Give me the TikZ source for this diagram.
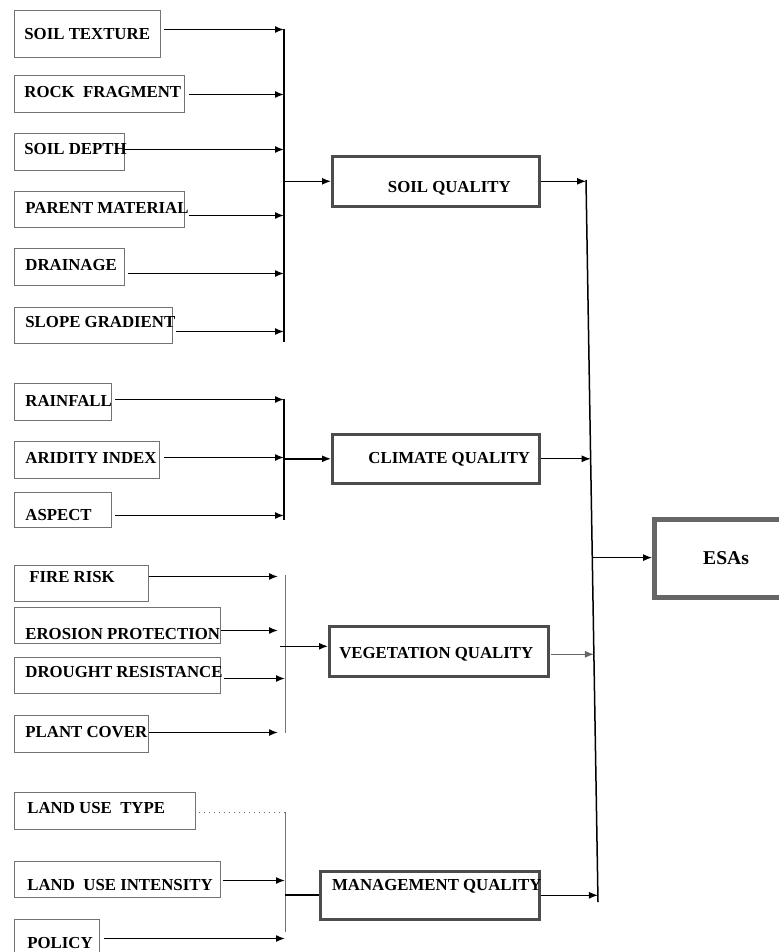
\documentclass[tikz,border=0pt]{standalone}
\usepackage{fontspec}
\setmainfont{Liberation Serif}
\usetikzlibrary{arrows.meta, calc}

\tikzset{
    factor/.style={draw=black!55, line width=0.5pt, anchor=north west, inner sep=0pt, minimum height=18pt},
    factxt/.style={anchor=west, inner sep=0pt, font=\fontsize{8.4}{10}\selectfont\bfseries},
    quality/.style={draw=black!70, line width=1.3pt, anchor=north west, inner sep=0pt},
    qtxt/.style={anchor=center, inner sep=0pt, font=\fontsize{8.4}{10}\selectfont\bfseries},
    esasbox/.style={draw=black!60, line width=2.6pt, anchor=north west, inner sep=0pt, font=\fontsize{9.8}{11}\selectfont\bfseries},
    feed/.style={line width=0.7pt, -{Latex[length=4.5pt, width=3.5pt]}},
    bus/.style={line width=0.75pt},
    greybus/.style={line width=0.5pt, draw=black!55},
}

\begin{document}
\begin{tikzpicture}[x=0.5pt, y=-0.5pt]
    \useasboundingbox (0,0) rectangle (779,952);

    % soil
    \node[factor, minimum width=73pt, minimum height=23.5pt, label={[factxt, xshift=5pt]west:SOIL TEXTURE}] (texture) at (14,10) {};
    \node[factor, minimum width=85pt, minimum height=18.5pt, label={[factxt, xshift=5pt, yshift=0.75pt]west:ROCK\ \ FRAGMENT}] (rock) at (14,75) {};
    \node[factor, minimum width=55pt, minimum height=18.5pt, label={[factxt, xshift=5pt, yshift=1.25pt]west:SOIL DEPTH}] (depth) at (14,133) {};
    \node[factor, minimum width=85pt, label={[factxt, xshift=5.5pt, yshift=1pt]west:PARENT MATERIAL}] (parent) at (14,191) {};
    \node[factor, minimum width=55pt, minimum height=18.5pt, label={[factxt, xshift=5.5pt, yshift=0.75pt]west:DRAINAGE}] (drainage) at (14,248) {};
    \node[factor, minimum width=79pt, label={[factxt, xshift=5.5pt, yshift=1.5pt]west:SLOPE GRADIENT}] (slope) at (14,307) {};

    \node[quality, minimum width=103.5pt, minimum height=25pt, label={[qtxt, xshift=6.75pt, yshift=-3.5pt]center:SOIL QUALITY}] (soilq) at (331,155) {};

    % climate
    \node[factor, minimum width=48.5pt, minimum height=18.5pt, label={[factxt, xshift=5.5pt, yshift=0.75pt]west:RAINFALL}] (rainfall) at (14,383) {};
    \node[factor, minimum width=72.5pt, minimum height=18.5pt, label={[factxt, xshift=5.5pt, yshift=1.25pt]west:ARIDITY INDEX}] (aridity) at (14,441) {};
    \node[factor, minimum width=48.5pt, minimum height=17.5pt, label={[factxt, xshift=5.5pt, yshift=-2.75pt]west:ASPECT}] (aspect) at (14,492) {};

    \node[quality, minimum width=103.5pt, minimum height=24.5pt, label={[qtxt, xshift=6.75pt]center:CLIMATE QUALITY}] (climq) at (331,433) {};

    % vegetation
    \node[factor, minimum width=67pt, label={[factxt, xshift=7.5pt, yshift=3pt]west:FIRE RISK}] (fire) at (14,565) {};
    \node[factor, minimum width=103pt, label={[factxt, xshift=5.5pt, yshift=-4.5pt]west:EROSION PROTECTION}] (erosion) at (14,607) {};
    \node[factor, minimum width=103pt, label={[factxt, xshift=5.5pt, yshift=1.5pt]west:DROUGHT RESISTANCE}] (drought) at (14,657) {};
    \node[factor, minimum width=67pt, minimum height=18.5pt, label={[factxt, xshift=5.5pt, yshift=0.75pt]west:PLANT COVER}] (plant) at (14,715) {};

    \node[quality, minimum width=109.5pt, minimum height=25pt, label={[qtxt, xshift=-1.25pt, yshift=-1.5pt]center:VEGETATION QUALITY}] (vegq) at (328,625) {};

    % management
    \node[factor, minimum width=90.5pt, minimum height=18.5pt, label={[factxt, xshift=6.5pt, yshift=1.25pt]west:LAND USE\ \ TYPE}] (landtype) at (14,792) {};
    \node[factor, minimum width=103pt, label={[factxt, xshift=6.5pt, yshift=-3pt]west:LAND\ \ USE INTENSITY}] (intensity) at (14,861) {};
    \node[factor, minimum width=42.5pt, minimum height=20pt, label={[factxt, xshift=6.5pt, yshift=-2pt]west:POLICY}] (policy) at (14,919) {};

    \node[quality, minimum width=109.5pt, minimum height=24pt, label={[qtxt, xshift=3.5pt, yshift=4.5pt]center:MANAGEMENT QUALITY}] (mgmtq) at (319,870) {};

    \node[esasbox, minimum width=71.5pt, minimum height=39pt] (esas) at (652,517) {ESAs};

    % buses
    \coordinate (sbus top) at (284,29);
    \coordinate (sbus bot) at (284,342);
    \coordinate (cbus top) at (284,399);
    \coordinate (cbus bot) at (284,520);
    \coordinate (vbus top) at (285,575);
    \coordinate (vbus bot) at (285,733);
    \coordinate (mbus top) at (285,812);
    \coordinate (mbus bot) at (285,932);
    \coordinate (mtop) at (586,180);
    \coordinate (mbot) at (598,902);
    % points on the slanted main bus
    \coordinate (c in) at ($(mtop)!0.384!(mbot)$);
    \coordinate (v in) at ($(mtop)!0.655!(mbot)$);
    \coordinate (m in) at ($(mtop)!0.99!(mbot)$);
    \coordinate (e out) at ($(mtop)!0.523!(mbot)$);

    \draw[bus] (sbus top) -- (sbus bot);
    \draw[bus] (cbus top) -- (cbus bot);
    \draw[greybus] (vbus top) -- (vbus bot);
    \draw[greybus] (mbus top) -- (mbus bot);
    \draw[bus] (mtop) -- (mbot);

    % soil arrows
    \draw[feed] (texture.east) ++(3,-4.5) coordinate (a) -- (a -| sbus top);
    \draw[feed] (rock.east) ++(4,0.5) coordinate (a) -- (a -| sbus top);
    \draw[feed] (depth.east) ++(-1,-2.5) coordinate (a) -- (a -| sbus top);
    \draw[feed] (parent.east) ++(4,6) coordinate (a) -- (a -| sbus top);
    \draw[feed] (drainage.east) ++(3,6.5) coordinate (a) -- (a -| sbus top);
    \draw[feed] (slope.east) ++(3,6) coordinate (a) -- (a -| sbus top);
    \draw[feed] (sbus top |- soilq.west) -- (soilq.west);

    % climate arrows
    \draw[feed] (rainfall.east) ++(3,-2.5) coordinate (a) -- (a -| cbus top);
    \draw[feed] (aridity.east) ++(4,-2.5) coordinate (a) -- (a -| cbus top);
    \draw[feed] (aspect.east) ++(3,5.5) coordinate (a) -- (a -| cbus top);
    \draw[feed] (cbus top |- climq.west) -- (climq.west);

    % vegetation arrows
    \draw[feed, shorten >=3.5pt] (fire.east) ++(0,-7) coordinate (a) -- (a -| vbus top);
    \draw[feed, shorten >=3.5pt] (erosion.east) ++(0,5) coordinate (a) -- (a -| vbus top);
    \draw[feed] (drought.east) ++(3,3) coordinate (a) -- (a -| vbus top);
    \draw[feed, shorten >=3.5pt] (plant.east) ++(0,-1.5) coordinate (a) -- (a -| vbus top);
    \draw[feed] (vbus top |- vegq.west) ++(-5,-5) coordinate (a) -- (a -| vegq.west);

    % management arrows
    \draw[dotted, line width=0.5pt, black!60] (landtype.east) ++(3,1.5) coordinate (a) -- (a -| mbus top);
    \draw[feed] (intensity.east) ++(2,1) coordinate (a) -- (a -| mbus top);
    \draw[feed] (policy.east) ++(4,-1) coordinate (a) -- (a -| mbus top);
    \draw[line width=1.1pt] (mbus top |- mgmtq.west) -- (mgmtq.west);

    % qualities to ESAs
    \draw[feed, line width=0.5pt] (soilq.east) -- (soilq.east -| mtop);
    \draw[feed, line width=0.5pt] (climq.east) -- (climq.east -| c in);
    \draw[feed, line width=0.5pt, black!60] (vegq.east) ++(1,3) coordinate (a) -- (a -| v in);
    \draw[feed, line width=0.5pt] (mgmtq.east) -- (mgmtq.east -| m in);
    \draw[feed, line width=0.5pt] (e out) -- (e out -| esas.west);
\end{tikzpicture}
\end{document}
